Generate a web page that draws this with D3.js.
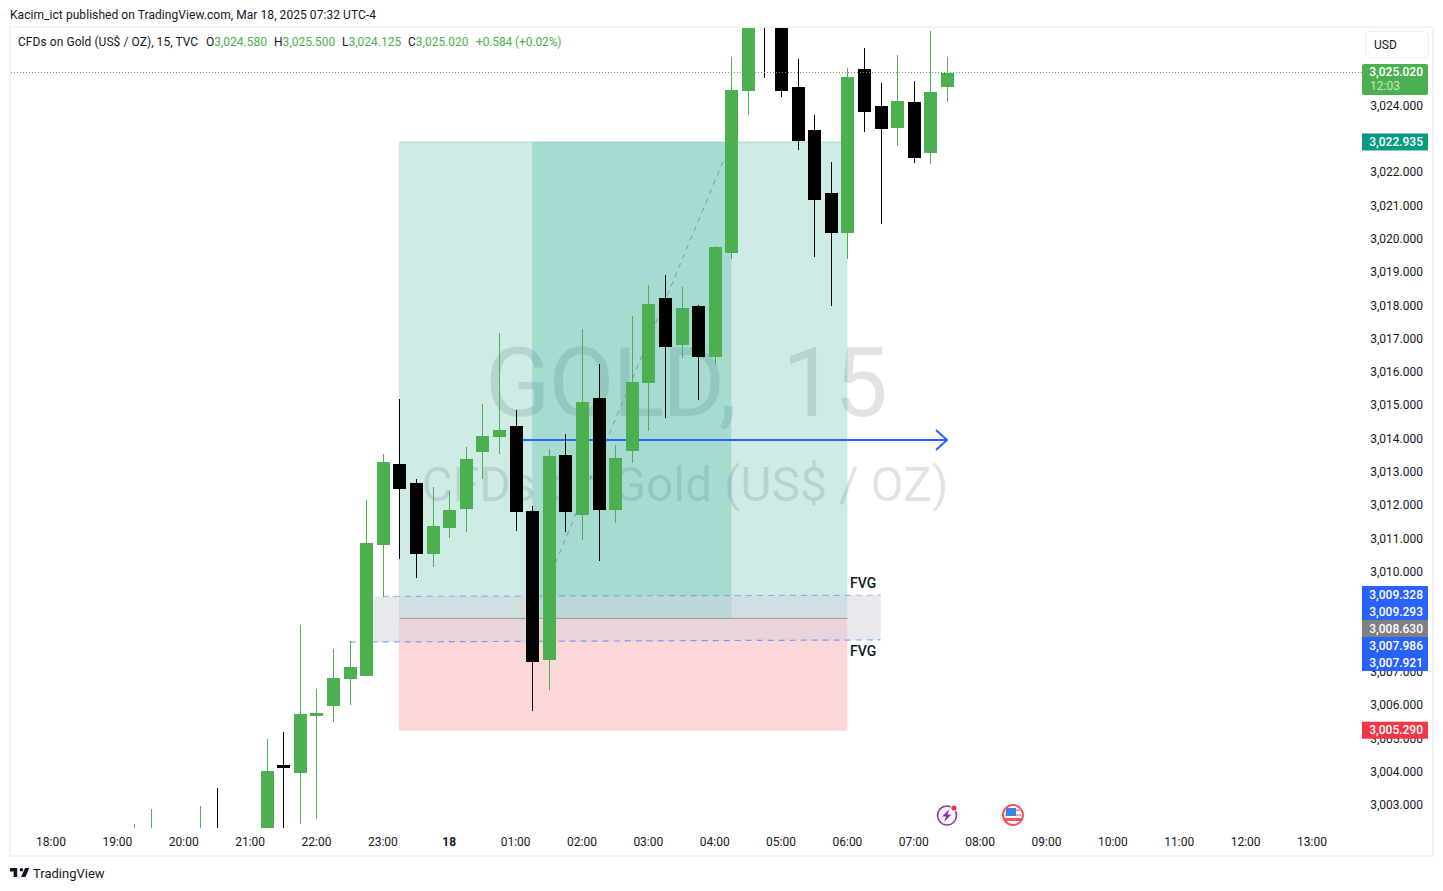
<!DOCTYPE html>
<html>
<head>
<meta charset="utf-8">
<script src="https://cdn.jsdelivr.net/npm/d3@7"></script>
<style>
html, body { margin: 0; padding: 0; background: #fff; }
svg { display: block; }
text { font-family: Roboto, "Liberation Sans", sans-serif; }
</style>
</head>
<body>
<div id="chart-area"></div>
<script>
// candle data, slot = number of 15 min bars after 18:00
var slots  = [5, 6, 9, 10, 13, 14, 15, 16, 17, 18, 19, 20, 21, 22, 23, 24, 25, 26, 27, 28, 29, 30, 31, 32, 33, 34, 35, 36, 37, 38, 39, 40, 41, 42, 43, 44, 45, 46, 47, 48, 49, 50, 51, 52, 53, 54];
var opens  = [3001.6, 3001.9, 3001.5, 3002.0, 3002.1, 3004.24, 3004.00, 3005.71, 3006.01, 3006.82, 3006.91, 3010.84, 3013.27, 3012.70, 3010.57, 3011.35, 3011.92, 3013.63, 3014.08, 3014.41, 3011.86, 3007.39, 3013.54, 3011.74, 3015.25, 3011.89, 3013.66, 3015.70, 3018.26, 3016.85, 3018.02, 3016.48, 3019.61, 3024.47, 3027.6, 3026.40, 3024.59, 3023.30, 3021.41, 3020.21, 3025.13, 3024.02, 3023.36, 3024.14, 3022.61, 3024.58];
var highs  = [3002.47, 3002.92, 3003.01, 3003.55, 3005.02, 3005.23, 3008.44, 3006.52, 3007.72, 3007.96, 3012.19, 3013.57, 3015.22, 3012.82, 3012.58, 3012.46, 3013.78, 3015.07, 3017.21, 3014.89, 3012.01, 3013.72, 3014.17, 3017.33, 3016.27, 3013.84, 3017.72, 3018.65, 3018.95, 3018.59, 3018.05, 3019.82, 3025.49, 3027.4, 3028.0, 3027.2, 3025.43, 3023.75, 3022.34, 3025.16, 3025.76, 3024.71, 3025.55, 3024.77, 3026.27, 3025.5];
var lows   = [3001.3, 3001.5, 3001.2, 3001.2, 3001.8, 3001.9, 3002.47, 3002.62, 3005.53, 3006.04, 3006.91, 3009.28, 3010.42, 3009.85, 3010.18, 3011.05, 3011.23, 3012.82, 3013.57, 3011.26, 3005.86, 3006.49, 3011.23, 3010.99, 3010.36, 3011.50, 3013.30, 3014.26, 3014.65, 3016.46, 3015.19, 3016.24, 3019.43, 3023.75, 3024.86, 3024.29, 3022.70, 3019.49, 3018.02, 3019.43, 3023.24, 3020.48, 3022.82, 3022.31, 3022.28, 3024.125];
var closes = [3002.0, 3002.2, 3001.9, 3001.6, 3004.06, 3004.15, 3005.77, 3005.80, 3006.85, 3007.18, 3010.90, 3013.33, 3012.52, 3010.57, 3011.41, 3011.89, 3013.42, 3014.11, 3014.29, 3011.83, 3007.33, 3013.51, 3011.83, 3015.13, 3011.89, 3013.45, 3015.73, 3018.08, 3016.79, 3017.96, 3016.48, 3019.79, 3024.50, 3026.40, 3026.7, 3024.47, 3022.97, 3021.20, 3020.21, 3024.89, 3023.84, 3023.33, 3024.17, 3022.46, 3024.44, 3025.02];

// axis labels
var priceTicks = [3003, 3004, 3005, 3006, 3007, 3008, 3009, 3010, 3011, 3012, 3013, 3014, 3015, 3016, 3017, 3018, 3019, 3020, 3021, 3022, 3023, 3024];
var timeTickHours = [0, 1, 2, 3, 4, 5, 6, 7, 8, 9, 10, 11, 12, 13, 14, 15, 16, 17, 18, 19];
var timeTickLabels = ["18:00", "19:00", "20:00", "21:00", "22:00", "23:00", "18", "01:00", "02:00", "03:00", "04:00", "05:00", "06:00", "07:00", "08:00", "09:00", "10:00", "11:00", "12:00", "13:00"];

// drawing levels
var lastPrice = 3025.02;
var targetPrice = 3022.935;
var entryPrice = 3008.63;
var stopPrice = 3005.29;
var arrowPrice = 3014.0;
var fvgTop = [3009.293, 3009.328];
var fvgBottom = [3007.921, 3007.986];

// slots where the drawings start and stop
var positionSlots = [21, 48];
var filledSlots = [29, 41];
var fvgFillSlots = [19, 50];
var fvgTopSlots = [20, 50];
var fvgBottomSlots = [18, 50];
var arrowSlots = [28.4, 54.05];

// labels on the price scale
var scaleLabels = ["3,009.328", "3,009.293", "3,008.630", "3,007.986", "3,007.921"];
var scaleLabelColors = ["#2962ff", "#2962ff", "#808080", "#2962ff", "#2962ff"];

var legendParts = [["O", "3,024.580", 206], ["H", "3,025.500", 274], ["L", "3,024.125", 342], ["C", "3,025.020", 408]];

var width = 1443,
	height = 891;
var up = "#4caf50", down = "#000000", blue = "#2962ff", ink = "#131722";

var svg = d3.select("#chart-area").append("svg")
	.attr("width", width)
	.attr("height", height);

svg.append("defs").append("clipPath").attr("id", "pane")
	.append("rect").attr("x", 11).attr("y", 28).attr("width", 1351).attr("height", 800);

// Scales
var start = new Date(2025, 2, 17, 18, 0);
var slotDate = function(s) { return d3.timeMinute.offset(start, s * 15); };
var x = d3.scaleTime()
	.domain([start, d3.timeHour.offset(start, 19)])
	.range([51, 1312]);
var sx = function(s) { return x(slotDate(s)); };
var y = d3.scaleLinear()
	.domain([3003, 3024])
	.range([806, 106.5]);

// Page frame and header
svg.append("rect")
	.attr("x", 10).attr("y", 27).attr("width", 1423).attr("height", 829)
	.attr("fill", "#fff").attr("stroke", "#f0f3fa").attr("stroke-width", 2);

svg.append("text").attr("x", 10).attr("y", 19)
	.attr("font-size", 12).attr("letter-spacing", 0.06).attr("fill", ink)
	.text("Kacim_ict published on TradingView.com, Mar 18, 2025 07:32 UTC-4");

var pane = svg.append("g").attr("clip-path", "url(#pane)");

// Watermark
pane.append("text").attr("x", 685.5).attr("y", 416)
	.attr("text-anchor", "middle").attr("font-size", 96).attr("letter-spacing", -2).attr("word-spacing", 25)
	.attr("fill", "#131722").attr("fill-opacity", 0.12)
	.text("GOLD, 15");
pane.append("text").attr("x", 685).attr("y", 501)
	.attr("text-anchor", "middle").attr("font-size", 48).attr("fill", "#131722").attr("fill-opacity", 0.12)
	.text("CFDs on Gold (US$ / OZ)");

// Long position zones
pane.append("rect")
	.attr("x", sx(positionSlots[0]) - 0.5).attr("width", sx(positionSlots[1]) - sx(positionSlots[0]) + 0.5)
	.attr("y", y(targetPrice)).attr("height", y(entryPrice) - y(targetPrice))
	.attr("fill", "#089981").attr("fill-opacity", 0.2);
pane.append("rect")
	.attr("x", sx(positionSlots[0]) - 0.5).attr("width", sx(positionSlots[1]) - sx(positionSlots[0]) + 0.5)
	.attr("y", y(entryPrice)).attr("height", y(stopPrice) - y(entryPrice) + 1)
	.attr("fill", "#f23645").attr("fill-opacity", 0.2);
pane.append("rect")
	.attr("x", sx(filledSlots[0])).attr("width", sx(filledSlots[1]) - sx(filledSlots[0]))
	.attr("y", y(targetPrice)).attr("height", y(entryPrice) - y(targetPrice))
	.attr("fill", "#089981").attr("fill-opacity", 0.2);
pane.append("line")
	.attr("x1", sx(positionSlots[0])).attr("x2", sx(positionSlots[1]))
	.attr("y1", y(targetPrice)).attr("y2", y(targetPrice))
	.attr("stroke", "#089981").attr("stroke-opacity", 0.25);
pane.append("line")
	.attr("x1", sx(filledSlots[0])).attr("x2", sx(filledSlots[1]))
	.attr("y1", y(entryPrice)).attr("y2", y(targetPrice))
	.attr("stroke", "#8f939c").attr("stroke-dasharray", "5,5");

// FVG band
var fvgLine = d3.line()
	.x(function(d) { return sx(d[0]); })
	.y(function(d) { return y(d[1]); });
pane.append("path")
	.attr("d", fvgLine([[fvgFillSlots[0], fvgTop[0]], [fvgFillSlots[1], fvgTop[1]], [fvgFillSlots[1], fvgBottom[1]], [fvgFillSlots[0], fvgBottom[0]]]) + "Z")
	.attr("fill", "#d1d4dc").attr("fill-opacity", 0.5);
pane.append("path")
	.attr("d", fvgLine([[fvgTopSlots[0], fvgTop[0]], [fvgTopSlots[1], fvgTop[1]]]))
	.attr("fill", "none")
	.attr("stroke", blue).attr("stroke-opacity", 0.4).attr("stroke-width", 1.2)
	.attr("stroke-dasharray", "6,5");
pane.append("path")
	.attr("d", fvgLine([[fvgBottomSlots[0], fvgBottom[0]], [fvgBottomSlots[1], fvgBottom[1]]]))
	.attr("fill", "none")
	.attr("stroke", blue).attr("stroke-opacity", 0.55).attr("stroke-width", 1.2)
	.attr("stroke-dasharray", "6,5");
pane.append("line")
	.attr("x1", sx(positionSlots[0])).attr("x2", sx(positionSlots[1]))
	.attr("y1", y(entryPrice)).attr("y2", y(entryPrice))
	.attr("stroke", "#9a9a9a");

// Arrow
var arrowY = Math.round(y(arrowPrice));
pane.append("line")
	.attr("x1", sx(arrowSlots[0])).attr("x2", sx(arrowSlots[1]))
	.attr("y1", arrowY).attr("y2", arrowY)
	.attr("stroke", blue).attr("stroke-width", 2);
pane.append("path")
	.attr("d", "M" + (sx(arrowSlots[1]) - 11) + "," + (arrowY - 10) + "L" + sx(arrowSlots[1]) + "," + arrowY + "L" + (sx(arrowSlots[1]) - 11) + "," + (arrowY + 10))
	.attr("fill", "none").attr("stroke", blue).attr("stroke-width", 2);

// Candles
var candles = slots.map(function(s, i) {
	return {slot: s, open: opens[i], high: highs[i], low: lows[i], close: closes[i]};
});
var cx = function(d) { return Math.round(sx(d.slot)); };
var color = function(d) { return d.close >= d.open ? up : down; };

var candle = pane.selectAll(".candle")
	.data(candles)
	.enter()
	.append("g")
	.attr("class", "candle")
	.attr("shape-rendering", "crispEdges");
candle.append("rect")
	.attr("x", cx)
	.attr("width", 1)
	.attr("y", function(d) { return Math.round(y(d.high)); })
	.attr("height", function(d) { return Math.round(y(d.low)) - Math.round(y(d.high)); })
	.attr("fill", color);
candle.append("rect")
	.attr("x", function(d) { return cx(d) - 6; })
	.attr("width", 13)
	.attr("y", function(d) { return Math.round(y(Math.max(d.open, d.close))); })
	.attr("height", function(d) { return Math.max(1, Math.round(y(Math.min(d.open, d.close))) - Math.round(y(Math.max(d.open, d.close)))); })
	.attr("fill", color);

// Last price line
pane.append("line")
	.attr("x1", 11).attr("x2", 1362)
	.attr("y1", y(lastPrice)).attr("y2", y(lastPrice))
	.attr("stroke", up).attr("stroke-dasharray", "1,2");

// FVG labels
svg.append("text").attr("x", 850).attr("y", 588)
	.attr("font-size", 14).attr("font-weight", 500).attr("fill", ink).text("FVG");
svg.append("text").attr("x", 850).attr("y", 656)
	.attr("font-size", 14).attr("font-weight", 500).attr("fill", ink).text("FVG");

// Axes
var priceFormat = d3.format(",.3f");
var yAxis = d3.axisLeft(y)
	.tickValues(priceTicks)
	.tickSize(0)
	.tickPadding(0)
	.tickFormat(priceFormat);
var yGroup = svg.append("g").attr("transform", "translate(1423,0)").call(yAxis);
yGroup.select(".domain").remove();
yGroup.selectAll("text")
	.attr("dy", 2.7)
	.attr("font-size", 12)
	.attr("font-family", "Roboto, sans-serif")
	.attr("fill", ink);

var xAxis = d3.axisBottom(x)
	.tickValues(timeTickHours.map(function(h) { return d3.timeHour.offset(start, h); }))
	.tickSize(0)
	.tickPadding(9.5)
	.tickFormat(function(d, i) { return timeTickLabels[i]; });
var xGroup = svg.append("g").attr("transform", "translate(-0.5,828)").call(xAxis);
xGroup.select(".domain").remove();
xGroup.selectAll("text")
	.attr("font-size", 12)
	.attr("font-family", "Roboto, sans-serif")
	.attr("font-weight", function(d, i) { return timeTickLabels[i] === "18" ? 700 : 400; })
	.attr("fill", ink);

// Legend
svg.append("text").attr("x", 18).attr("y", 46)
	.attr("font-size", 12).attr("letter-spacing", 0.06).attr("fill", ink)
	.text("CFDs on Gold (US$ / OZ), 15, TVC");
legendParts.forEach(function(p) {
	var t = svg.append("text").attr("x", p[2]).attr("y", 46).attr("font-size", 12);
	t.append("tspan").attr("fill", ink).text(p[0]);
	t.append("tspan").attr("fill", up).text(p[1]);
});
svg.append("text").attr("x", 476).attr("y", 46)
	.attr("font-size", 12).attr("letter-spacing", -0.12).attr("fill", up)
	.text("+0.584 (+0.02%)");

// USD button
svg.append("rect")
	.attr("x", 1365.5).attr("y", 31.5).attr("width", 63).attr("height", 26).attr("rx", 4)
	.attr("fill", "#fff").attr("stroke", "#eceef2");
svg.append("text").attr("x", 1374).attr("y", 49)
	.attr("font-size", 12).attr("fill", ink).text("USD");

// Price scale labels
var priceLabel = function(cy, h, fill, txt) {
	svg.append("rect")
		.attr("x", 1362).attr("y", cy - h / 2).attr("width", 66).attr("height", h)
		.attr("fill", fill);
	svg.append("text")
		.attr("x", 1423).attr("y", cy + 4).attr("text-anchor", "end")
		.attr("font-size", 12).attr("font-weight", 500).attr("fill", "#fff").text(txt);
};
svg.append("rect").attr("x", 1362).attr("y", 64).attr("width", 66).attr("height", 31).attr("rx", 2).attr("fill", up);
svg.append("text").attr("x", 1423).attr("y", 76).attr("text-anchor", "end")
	.attr("font-size", 12).attr("font-weight", 500).attr("fill", "#fff").text(priceFormat(lastPrice));
svg.append("text").attr("x", 1370).attr("y", 90)
	.attr("font-size", 12).attr("fill", "#fff").attr("fill-opacity", 0.7).text("12:03");
priceLabel(y(targetPrice), 17, "#089981", priceFormat(targetPrice));
scaleLabels.forEach(function(txt, i) {
	priceLabel(594.5 + i * 17, 17, scaleLabelColors[i], txt);
});
priceLabel(y(stopPrice) + 0.5, 17, "#f23645", priceFormat(stopPrice));

// Event icons
var bolt = svg.append("g").attr("transform", "translate(947,815.5)");
bolt.append("circle").attr("r", 9.5).attr("fill", "#fff").attr("stroke", "#9c27b0").attr("stroke-width", 1.6);
bolt.append("path").attr("d", "M2.5,-6.5L-5,1H-1L-3,6.5L4.5,-1H0.5Z").attr("fill", "#9c27b0");
bolt.append("circle").attr("cx", 7).attr("cy", -7.5).attr("r", 3.6).attr("fill", "#fff");
bolt.append("circle").attr("cx", 7).attr("cy", -7.5).attr("r", 2.6).attr("fill", "#f23645");

var flag = svg.append("g").attr("transform", "translate(1013,815)");
flag.append("circle").attr("r", 10).attr("fill", "#fff").attr("stroke", "#f7525f").attr("stroke-width", 2);
flag.append("rect").attr("x", -8).attr("y", -6).attr("width", 16).attr("height", 2).attr("fill", "#f7a0a6");
flag.append("rect").attr("x", -8).attr("y", -1).attr("width", 16).attr("height", 2).attr("fill", "#f7a0a6");
flag.append("rect").attr("x", -8).attr("y", 3).attr("width", 16).attr("height", 3).attr("fill", "#f7525f");
flag.append("rect").attr("x", -7).attr("y", -7).attr("width", 10).attr("height", 8).attr("fill", "#3d86dc");

// Logo
svg.append("path")
	.attr("transform", "translate(8.8,864.4) scale(0.6)")
	.attr("d", "M14 6H2v6h6v9h6V6zm14 15h-7.5L27 6h7l-6 15zm-7-9a3 3 0 1 0 0-6 3 3 0 0 0 0 6z")
	.attr("fill", ink);
svg.append("text").attr("x", 33).attr("y", 878)
	.attr("font-size", 13).attr("fill", ink).text("TradingView");
</script>
</body>
</html>
